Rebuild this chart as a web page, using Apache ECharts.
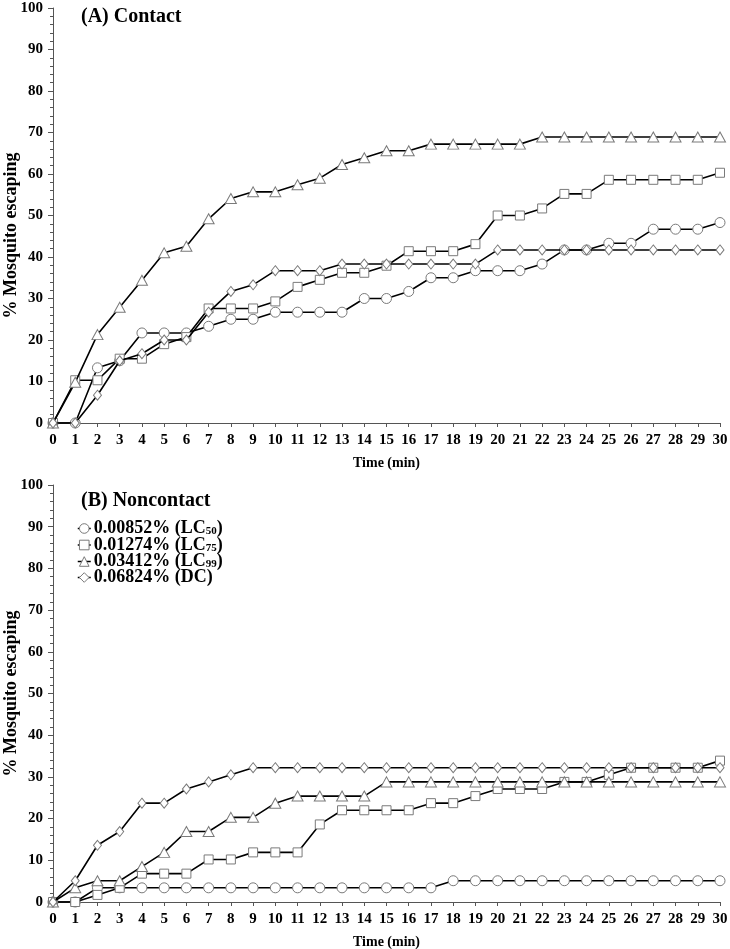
<!DOCTYPE html>
<html>
<head>
<meta charset="utf-8">
<script src="https://cdn.jsdelivr.net/npm/echarts@6/dist/echarts.min.js"></script>
<style>html,body{margin:0;padding:0;background:#fff}#c{width:730px;height:949px}</style>
</head>
<body>
<div id="c"></div>
<script>
var minutes = [0,1,2,3,4,5,6,7,8,9,10,11,12,13,14,15,16,17,18,19,20,21,22,23,24,25,26,27,28,29,30];
var seriesNames = ['0.00852% (LC50)','0.01274% (LC75)','0.03412% (LC99)','0.06824% (DC)'];
var legendLabels = [
  ['0.00852% (LC','50',')'],
  ['0.01274% (LC','75',')'],
  ['0.03412% (LC','99',')'],
  ['0.06824% (DC)','','']
];
// Panel A: Contact
var contactLC50 = [0,0,13.3,15,21.7,21.7,21.7,23.3,25,25,26.7,26.7,26.7,26.7,30,30,31.7,35,35,36.7,36.7,36.7,38.3,41.7,41.7,43.3,43.3,46.7,46.7,46.7,48.3];
var contactLC75 = [0,10.3,10.3,15.5,15.5,19,20.7,27.6,27.6,27.6,29.3,32.8,34.5,36.2,36.2,37.9,41.4,41.4,41.4,43.1,50,50,51.7,55.2,55.2,58.6,58.6,58.6,58.6,58.6,60.3];
var contactLC99 = [0,9.8,21.3,27.9,34.4,41,42.6,49.2,54.1,55.7,55.7,57.4,59,62.3,63.9,65.6,65.6,67.2,67.2,67.2,67.2,67.2,68.9,68.9,68.9,68.9,68.9,68.9,68.9,68.9,68.9];
var contactDC   = [0,0,6.7,15,16.7,20,20,26.7,31.7,33.3,36.7,36.7,36.7,38.3,38.3,38.3,38.3,38.3,38.3,38.3,41.7,41.7,41.7,41.7,41.7,41.7,41.7,41.7,41.7,41.7,41.7];
// Panel B: Noncontact
var noncontactLC50 = [0,0,3.4,3.4,3.4,3.4,3.4,3.4,3.4,3.4,3.4,3.4,3.4,3.4,3.4,3.4,3.4,3.4,5.1,5.1,5.1,5.1,5.1,5.1,5.1,5.1,5.1,5.1,5.1,5.1,5.1];
var noncontactLC75 = [0,0,1.7,3.4,6.8,6.8,6.8,10.2,10.2,11.9,11.9,11.9,18.6,22,22,22,22,23.7,23.7,25.4,27.1,27.1,27.1,28.8,28.8,30.5,32.2,32.2,32.2,32.2,33.9];
var noncontactLC99 = [0,3.4,5.1,5.1,8.5,11.9,16.9,16.9,20.3,20.3,23.7,25.4,25.4,25.4,25.4,28.8,28.8,28.8,28.8,28.8,28.8,28.8,28.8,28.8,28.8,28.8,28.8,28.8,28.8,28.8,28.8];
var noncontactDC   = [0,5.1,13.6,16.9,23.7,23.7,27.1,28.8,30.5,32.2,32.2,32.2,32.2,32.2,32.2,32.2,32.2,32.2,32.2,32.2,32.2,32.2,32.2,32.2,32.2,32.2,32.2,32.2,32.2,32.2,32.2];
var yTicks = [0,10,20,30,40,50,60,70,80,90,100];

var FONT = '"Liberation Serif","Times New Roman",serif';
var symbols = ['circle','rect','triangle','diamond'];
var symbolSizes = [10,9,[11,10],[8,10]];

function pairs(vals){ return minutes.map(function(t,i){ return [t, vals[i]]; }); }

function mkSeries(idx, vals, panel){
  return {
    type:'line', name: seriesNames[idx], xAxisIndex: panel, yAxisIndex: panel,
    data: pairs(vals), symbol: symbols[idx], symbolSize: symbolSizes[idx], showAllSymbol: true,
    lineStyle:{color:'#000', width:1.6},
    itemStyle:{color:'#fff', borderColor:'#7a7a7a', borderWidth:1},
    emphasis:{disabled:true}, animation:false, z: 2 + idx
  };
}

function xAxis(gi){
  return {
    type:'value', gridIndex:gi, min:0, max:30, interval:1,
    name:'Time (min)', nameLocation:'middle', nameGap:33, nameMoveOverlap:false,
    nameTextStyle:{fontFamily:FONT, fontWeight:'bold', fontSize:14, color:'#000'},
    axisLine:{show:true, onZero:false, lineStyle:{color:'#555', width:1}},
    axisTick:{show:true, length:4, lineStyle:{color:'#555'}},
    axisLabel:{fontFamily:FONT, fontWeight:'bold', fontSize:15, color:'#000', margin:10},
    splitLine:{show:false}
  };
}
function yAxis(gi, namePad){
  return {
    type:'value', gridIndex:gi, min:0, max:100, interval:10,
    name:'% Mosquito escaping', nameLocation:'middle', nameGap:33, nameMoveOverlap:false,
    nameTextStyle:{fontFamily:FONT, fontWeight:'bold', fontSize:18, color:'#000', padding:namePad},
    axisLine:{show:true, lineStyle:{color:'#555', width:1}},
    axisTick:{show:true, length:5, lineStyle:{color:'#555'}},
    minorTick:{show:true, splitNumber:5, length:3, lineStyle:{color:'#555'}},
    axisLabel:{fontFamily:FONT, fontWeight:'bold', fontSize:15, color:'#000', margin:10,
      formatter:function(v){ return yTicks.indexOf(v) >= 0 ? String(v) : ''; }},
    splitLine:{show:false}
  };
}

var chart = echarts.init(document.getElementById('c'), null, {renderer:'canvas'});
chart.setOption({
  backgroundColor:'#fff',
  animation:false,
  title:[
    {text:'(A) Contact', left:76, top:2, textStyle:{fontFamily:FONT, fontWeight:'bold', fontSize:20, color:'#000'}},
    {text:'(B) Noncontact', left:76, top:486, textStyle:{fontFamily:FONT, fontWeight:'bold', fontSize:20, color:'#000'}}
  ],
  grid:[
    {left:53, top:8, width:667, height:415, outerBoundsMode:'none', containLabel:false},
    {left:53, top:485, width:667, height:417, outerBoundsMode:'none', containLabel:false}
  ],
  xAxis:[xAxis(0), xAxis(1)],
  yAxis:[yAxis(0, [0,40,0,0]), yAxis(1, [0,0,0,0])],
  legend:{
    data: seriesNames, orient:'vertical', left:77, top:519, itemGap:-2, padding:0,
    itemWidth:13, itemHeight:12, selectedMode:false,
    itemStyle:{color:'#fff', borderColor:'#7a7a7a', borderWidth:1},
    lineStyle:{color:'#000', width:1.5},
    formatter:function(name){
      var p = legendLabels[seriesNames.indexOf(name)];
      return p[1] ? '{t|' + p[0] + '}{s|' + p[1] + '}{t|' + p[2] + '}' : '{t|' + p[0] + '}';
    },
    textStyle:{
      fontFamily:FONT, fontWeight:'bold', fontSize:18, color:'#000', padding:[0,0,0,-2],
      rich:{
        t:{fontFamily:FONT, fontWeight:'bold', fontSize:18, color:'#000', lineHeight:17},
        s:{fontFamily:FONT, fontWeight:'bold', fontSize:11, color:'#000', verticalAlign:'bottom', lineHeight:17, padding:[7,0,0,0]}
      }
    }
  },
  series:[
    mkSeries(0, contactLC50, 0), mkSeries(1, contactLC75, 0), mkSeries(2, contactLC99, 0), mkSeries(3, contactDC, 0),
    mkSeries(0, noncontactLC50, 1), mkSeries(1, noncontactLC75, 1), mkSeries(2, noncontactLC99, 1), mkSeries(3, noncontactDC, 1)
  ]
});
</script>
</body>
</html>
